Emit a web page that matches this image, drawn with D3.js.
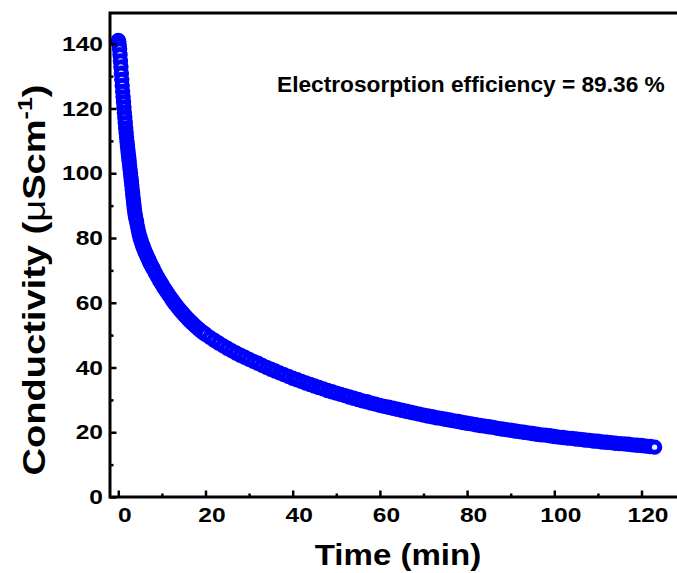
<!DOCTYPE html>
<html>
<head>
<meta charset="utf-8">
<script src="https://cdn.jsdelivr.net/npm/d3@7"></script>
<style>
  body { margin: 0; background: #fff; }
  text { font-family: "Liberation Sans", Arial, sans-serif; font-weight: bold; fill: #000; }
</style>
</head>
<body>
<div id="chart-area"></div>
<script>
// time (min) and conductivity (uS/cm)
const timeMin = [
  0.0, 0.1, 0.2, 0.3, 0.4, 0.5, 0.6, 0.7, 0.8, 0.9,
  1.0, 1.1, 1.2, 1.3, 1.4, 1.5, 1.6, 1.7, 1.8, 1.9,
  2.0, 2.1, 2.2, 2.3, 2.4, 2.5, 2.6, 2.7, 2.8, 2.9,
  3.0, 3.1, 3.2, 3.3, 3.4, 3.5, 3.6, 3.7, 3.8, 3.9, 4.0,
  4.2, 4.4, 4.6, 4.8, 5.0, 5.2, 5.4, 5.6, 5.8, 6.0,
  6.2, 6.4, 6.6, 6.8, 7.0, 7.2, 7.4, 7.6, 7.8, 8.0,
  8.5, 9.0, 9.5, 10.0, 10.5, 11.0, 11.5, 12.0, 12.5, 13.0,
  13.5, 14.0, 14.5, 15.0, 15.5, 16.0, 16.5, 17.0, 17.5, 18.0,
  18.5, 19.0, 19.5,
  20, 21, 22, 23, 24, 25, 26, 27, 28, 29,
  30, 31, 32, 33, 34, 35, 36, 37, 38, 39,
  40, 41, 42, 43, 44, 45, 46, 47, 48, 49,
  50, 51, 52, 53, 54, 55, 56, 57, 58, 59,
  60, 61, 62, 63, 64, 65, 66, 67, 68, 69,
  70, 71, 72, 73, 74, 75, 76, 77, 78, 79,
  80, 81, 82, 83, 84, 85, 86, 87, 88, 89,
  90, 91, 92, 93, 94, 95, 96, 97, 98, 99,
  100, 101, 102, 103, 104, 105, 106, 107, 108, 109,
  110, 111, 112, 113, 114, 115, 116, 117, 118, 119,
  120, 121, 122, 123
];
const conductivity = [
  141.0, 140.7, 139.8, 138.4, 136.6, 134.7, 132.8, 130.9, 129.0, 127.1,
  125.3, 123.6, 122.0, 120.4, 118.8, 117.2, 115.6, 114.0, 112.5, 111.1,
  109.8, 108.5, 107.2, 106.0, 104.8, 103.6, 102.4, 101.2, 100.0, 98.8,
  97.6, 96.3, 95.0, 93.7, 92.4, 91.2, 90.0, 88.9, 87.9, 87.0, 86.2,
  85.0, 83.6, 82.3, 81.1, 80.1, 79.2, 78.4, 77.6, 76.9, 76.2,
  75.6, 75.0, 74.4, 73.8, 73.2, 72.6, 72.0, 71.5, 71.0, 70.5,
  69.2, 68.0, 66.8, 65.7, 64.6, 63.6, 62.6, 61.6, 60.6, 59.7,
  58.85, 58.0, 57.2, 56.45, 55.7, 55.0, 54.3, 53.65, 53.0, 52.4,
  51.8, 51.25, 50.75,
  50.25, 49.3, 48.4, 47.55, 46.75, 45.95, 45.2, 44.5, 43.8, 43.15,
  42.5, 41.9, 41.3, 40.65, 40.05, 39.45, 38.9, 38.35, 37.8, 37.25,
  36.7, 36.2, 35.7, 35.2, 34.75, 34.3, 33.8, 33.4, 32.9, 32.5,
  32.1, 31.7, 31.3, 30.9, 30.5, 30.1, 29.7, 29.4, 29.0, 28.7,
  28.3, 28.0, 27.7, 27.4, 27.1, 26.8, 26.5, 26.2, 25.9, 25.6,
  25.3, 25.0, 24.8, 24.5, 24.3, 24.0, 23.8, 23.5, 23.3, 23.0,
  22.8, 22.6, 22.3, 22.1, 21.9, 21.7, 21.5, 21.2, 21.0, 20.8,
  20.6, 20.4, 20.2, 20.0, 19.8, 19.6, 19.4, 19.2, 19.1, 18.9,
  18.7, 18.5, 18.4, 18.2, 18.1, 17.9, 17.8, 17.6, 17.5, 17.3,
  17.2, 17.0, 16.9, 16.8, 16.6, 16.5, 16.4, 16.3, 16.1, 16.0,
  15.9, 15.7, 15.6, 15.4
];

const xTicks = [0, 20, 40, 60, 80, 100, 120];
const xMinor = [10, 30, 50, 70, 90, 110];
const yTicks = [0, 20, 40, 60, 80, 100, 120, 140];
const yMinor = [10, 30, 50, 70, 90, 110, 130];
const annotation = "Electrosorption efficiency = 89.36 %";

const width = 677;
const height = 573;
const plotLeft = 110, plotRight = 679, plotTop = 13, plotBottom = 497;
const stretch = 1.17; // labels in the figure are drawn wide

const svg = d3.select("#chart-area")
    .append("svg")
    .attr("width", width)
    .attr("height", height);

const x = d3.scaleLinear().domain([-1.9, 128.6]).range([plotLeft, plotRight]);
const y = d3.scaleLinear().domain([0, 149.5]).range([plotBottom, plotTop]);

// data: open circles, dense enough to form a solid band
svg.append("g")
    .selectAll("circle")
    .data(timeMin.map((t, i) => ({t: t, c: conductivity[i]})))
    .enter()
    .append("circle")
    .attr("cx", d => x(d.t))
    .attr("cy", d => y(d.c))
    .attr("r", 5.2)
    .attr("fill", "#e4ecff")
    .attr("stroke", "#0000ff")
    .attr("stroke-width", 5);

// axes with inward ticks
const xAxis = svg.append("g")
    .attr("transform", `translate(0,${plotBottom})`)
    .call(d3.axisBottom(x).tickValues(xTicks).tickSizeInner(-6.5).tickSizeOuter(0).tickPadding(10));
xAxis.select(".domain").remove();
xAxis.selectAll("line").attr("stroke-width", 2.5);
xAxis.selectAll("text")
    .attr("font-size", 21)
    .attr("x", 6 / stretch)
    .attr("transform", `scale(${stretch},1)`);

const xMinorAxis = svg.append("g")
    .attr("transform", `translate(0,${plotBottom})`)
    .call(d3.axisBottom(x).tickValues(xMinor).tickSizeInner(-3.5).tickSizeOuter(0).tickFormat(""));
xMinorAxis.select(".domain").remove();
xMinorAxis.selectAll("line").attr("stroke-width", 2.5);

const yAxis = svg.append("g")
    .attr("transform", `translate(${plotLeft},0)`)
    .call(d3.axisLeft(y).tickValues(yTicks).tickSizeInner(-6.5).tickSizeOuter(0).tickPadding(7));
yAxis.select(".domain").remove();
yAxis.selectAll("line").attr("stroke-width", 2.5);
yAxis.selectAll("text")
    .attr("font-size", 21)
    .attr("x", -7 / stretch)
    .attr("transform", `scale(${stretch},1)`);

const yMinorAxis = svg.append("g")
    .attr("transform", `translate(${plotLeft},0)`)
    .call(d3.axisLeft(y).tickValues(yMinor).tickSizeInner(-3.5).tickSizeOuter(0).tickFormat(""));
yMinorAxis.select(".domain").remove();
yMinorAxis.selectAll("line").attr("stroke-width", 2.5);

// frame
svg.append("rect")
    .attr("x", plotLeft)
    .attr("y", plotTop)
    .attr("width", plotRight - plotLeft)
    .attr("height", plotBottom - plotTop)
    .attr("fill", "none")
    .attr("stroke", "#000")
    .attr("stroke-width", 3);

// axis titles
svg.append("text")
    .attr("transform", `translate(398,565) scale(1.14,1)`)
    .attr("text-anchor", "middle")
    .attr("font-size", 29)
    .text("Time (min)");

const yTitle = svg.append("text")
    .attr("transform", `translate(45,280) rotate(-90) scale(1.19,1)`)
    .attr("text-anchor", "middle")
    .attr("font-size", 32);
yTitle.append("tspan").text("Conductivity (");
yTitle.append("tspan").attr("font-weight", "normal").text("\u03bc");
yTitle.append("tspan").text("Scm");
yTitle.append("tspan").attr("font-size", 21).attr("dy", -13).text("-1");
yTitle.append("tspan").attr("dy", 13).text(")");

svg.append("text")
    .attr("x", 277)
    .attr("y", 92)
    .attr("font-size", 22.7)
    .text(annotation);
</script>
</body>
</html>
